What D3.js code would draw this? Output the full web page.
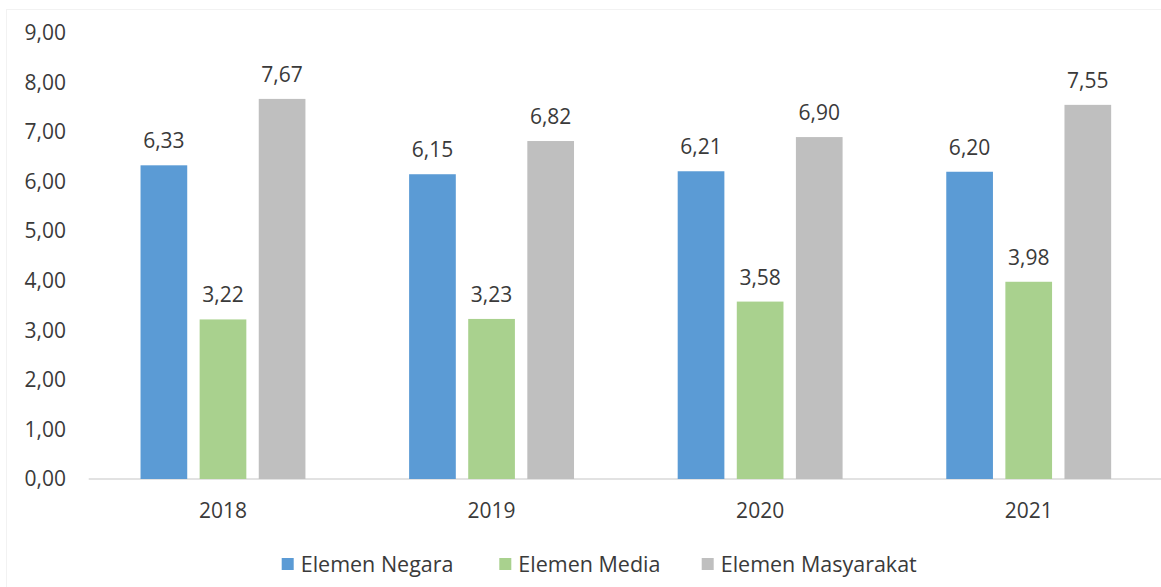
<!DOCTYPE html>
<html>
<head>
<meta charset="utf-8">
<script src="https://cdn.jsdelivr.net/npm/d3@7"></script>
<style>
  html, body { margin: 0; padding: 0; background: #fff; }
  svg { display: block; }
  text { font-family: "Open Sans", "Liberation Sans", sans-serif; fill: #3a3a3a; }
</style>
</head>
<body>
<svg id="chart" width="1161" height="587"></svg>
<script>
const categories = ["2018", "2019", "2020", "2021"];
const seriesNames = ["Elemen Negara", "Elemen Media", "Elemen Masyarakat"];
const elemenNegara = [6.33, 6.15, 6.21, 6.20];
const elemenMedia = [3.22, 3.23, 3.58, 3.98];
const elemenMasyarakat = [7.67, 6.82, 6.90, 7.55];
const yTicks = [0, 1, 2, 3, 4, 5, 6, 7, 8, 9];
const colors = ["#5B9BD5", "#A9D18E", "#BFBFBF"];

const seriesValues = [elemenNegara, elemenMedia, elemenMasyarakat];
const fmt = v => d3.format(".2f")(v).replace(".", ",");

const svg = d3.select("#chart");
const W = 1161, H = 587;

// faint chart border
svg.append("rect").attr("x", 6.5).attr("y", 9.5).attr("width", W).attr("height", H)
  .attr("fill", "none").attr("stroke", "#f2f2f2");

const x0 = d3.scaleBand().domain(categories).range([88.7, 1163])
  .paddingInner(0.386).paddingOuter(0.193);
const x1 = d3.scaleBand().domain(seriesNames).range([0, x0.bandwidth()])
  .paddingInner(0.21).paddingOuter(0);
const y = d3.scaleLinear().domain([0, 9]).range([479, 33]);

// y axis labels
const yAxis = d3.axisLeft(y).tickValues(yTicks).tickFormat(fmt).tickSize(0).tickPadding(0);
const gy = svg.append("g").attr("transform", "translate(66,0)").call(yAxis);
gy.select(".domain").remove();
gy.selectAll("text").style("font-size", "21px").attr("fill", "#3a3a3a")
  .style("font-family", "'Open Sans', sans-serif");

// x axis
const xAxis = d3.axisBottom(x0).tickSize(0).tickPadding(0);
const gx = svg.append("g").attr("transform", "translate(0,479)").call(xAxis);
gx.select(".domain").attr("stroke", "#d9d9d9").attr("stroke-width", 1.3)
  .attr("d", "M88.7,0H1161");
gx.selectAll("text").style("font-size", "21px").attr("fill", "#3a3a3a")
  .attr("dy", null).attr("y", 39)
  .style("font-family", "'Open Sans', sans-serif");

// bars
const groups = svg.append("g").selectAll("g").data(categories).join("g")
  .attr("transform", d => `translate(${x0(d)},0)`);

groups.selectAll("rect")
  .data((c, i) => seriesNames.map((s, k) => ({ s, k, v: seriesValues[k][i] })))
  .join("rect")
  .attr("x", d => x1(d.s))
  .attr("width", x1.bandwidth())
  .attr("y", d => y(d.v))
  .attr("height", d => y(0) - y(d.v))
  .attr("fill", d => colors[d.k]);

groups.selectAll("text.lbl")
  .data((c, i) => seriesNames.map((s, k) => ({ s, k, v: seriesValues[k][i] })))
  .join("text").attr("class", "lbl")
  .attr("x", d => x1(d.s) + x1.bandwidth() / 2)
  .attr("y", d => y(d.v) - 17)
  .attr("text-anchor", "middle")
  .style("font-size", "21px")
  .text(d => fmt(d.v));

// legend
const legendX = [281.7, 499.3, 701.7];
const lg = svg.append("g");
seriesNames.forEach((s, k) => {
  lg.append("rect").attr("x", legendX[k]).attr("y", 558).attr("width", 12).attr("height", 12)
    .attr("fill", colors[k]);
  lg.append("text")
    .attr("x", legendX[k] + 19).attr("y", 564)
    .attr("dy", "0.35em")
    .style("font-size", "21.5px").text(s);
});
</script>
</body>
</html>
